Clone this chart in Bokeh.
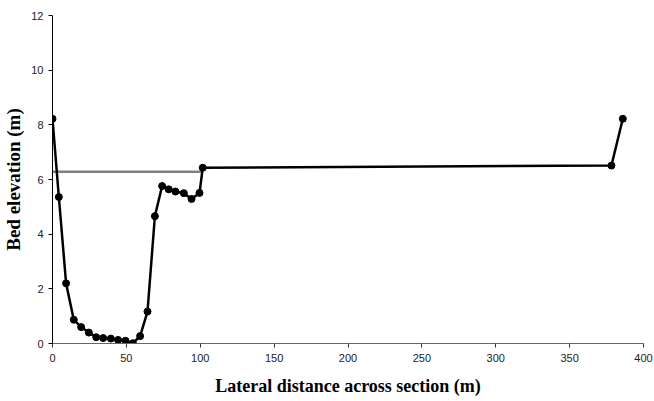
from bokeh.plotting import figure
from bokeh.models import Range1d, FixedTicker
from bokeh.embed import file_html
from bokeh.resources import INLINE

# Bed profile
distance = [0, 4.3, 9.2, 14.4, 19.4, 24.6, 29.6, 34.3, 39.5, 44.4, 49.4, 54.4,
            59.3, 64.3, 69.3, 74.2, 78.7, 83.2, 88.9, 94.1, 99.5, 101.7, 378.3, 386]
elevation = [8.22, 5.36, 2.2, 0.87, 0.6, 0.4, 0.23, 0.2, 0.18, 0.13, 0.1, 0.01,
             0.27, 1.17, 4.66, 5.76, 5.64, 5.56, 5.5, 5.29, 5.51, 6.43, 6.51, 8.22]

# Water level
water_x = [0, 101.5]
water_y = [6.28, 6.28]

x_ticks = [0, 50, 100, 150, 200, 250, 300, 350, 400]
y_ticks = [0, 2, 4, 6, 8, 10, 12]

p = figure(width=654, height=401, output_backend="svg", toolbar_location=None,
           x_range=Range1d(0, 400), y_range=Range1d(0, 12),
           min_border_left=52, min_border_right=11, min_border_top=15, min_border_bottom=58)
p.outline_line_color = None
p.xgrid.visible = False
p.ygrid.visible = False
p.background_fill_color = "white"

p.line(water_x, water_y, line_color="#808080", line_width=2.5)
p.line(distance, elevation, line_color="black", line_width=2.5)
p.scatter(distance, elevation, size=7, color="black")

for ax in (p.xaxis[0], p.yaxis[0]):
    ax.minor_tick_line_color = None
    ax.major_tick_in = 0
    ax.major_tick_out = 4
    ax.major_label_text_font = "Liberation Sans"
    ax.major_label_text_font_size = "11px"
    ax.major_label_text_color = "#222222"
    ax.axis_label_text_font = "Liberation Serif"
    ax.axis_label_text_font_style = "bold"
    ax.axis_label_text_color = "black"

p.xaxis.ticker = FixedTicker(ticks=x_ticks)
p.yaxis.ticker = FixedTicker(ticks=y_ticks)
p.xaxis.axis_label = "Lateral distance across section (m)"
p.yaxis.axis_label = "Bed elevation (m)"
p.xaxis.axis_label_text_font_size = "18px"
p.yaxis.axis_label_text_font_size = "19px"
p.xaxis.axis_label_standoff = 11
p.yaxis.axis_label_standoff = 4
p.xaxis.axis_line_color = "#666666"
p.xaxis.major_tick_line_color = "#333333"
p.yaxis.axis_line_color = "black"
p.xaxis.major_label_standoff = 6
p.yaxis.major_label_standoff = 5

open("out.html", "w").write(file_html(p, INLINE))
